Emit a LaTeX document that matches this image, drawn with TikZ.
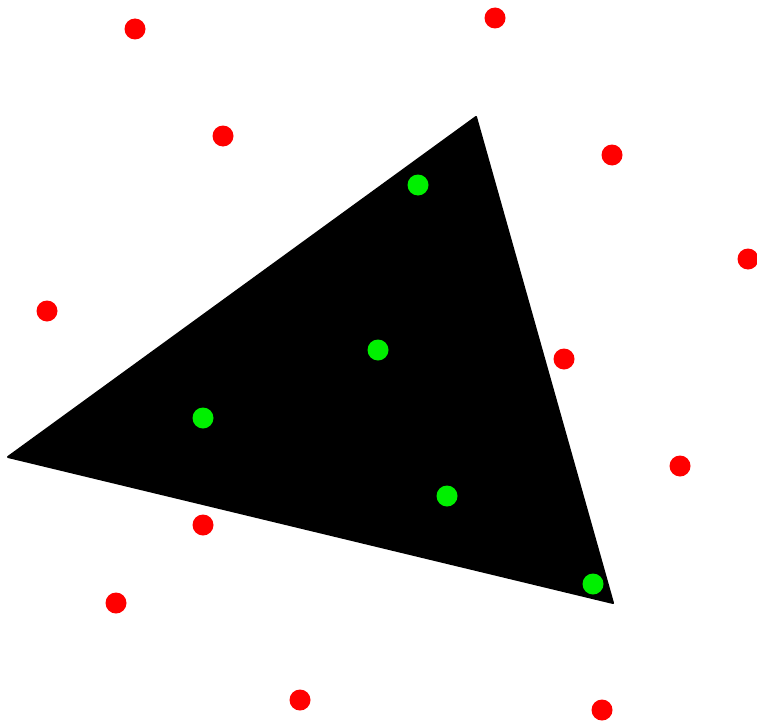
\documentclass[tikz,border=0pt]{standalone}
\usepackage{xcolor}
\usepackage{tikz}

\definecolor{outred}{RGB}{255,0,0}
\definecolor{ingreen}{RGB}{0,240,0}

\begin{document}
\begin{tikzpicture}[x=1pt, y=-1pt,
  every node/.style={inner sep=0pt},
  outpt/.style={circle, fill=outred, minimum size=21pt},
  inpt/.style={circle, fill=ingreen, minimum size=21pt},
  hull/.style={fill=black, draw=black, line width=2pt, line join=round}]
\useasboundingbox (0,0) rectangle (757,725);
% triangle corners
\coordinate (Ttop)   at (476,117);
\coordinate (Tleft)  at (8,457);
\coordinate (Tright) at (613,603);
\fill[hull] (Ttop) -- (Tleft) -- (Tright) -- cycle;
% points inside
\node[inpt] (G1) at (418,185) {};
\node[inpt] (G2) at (378,350) {};
\node[inpt] (G3) at (203,418) {};
\node[inpt] (G4) at (447,496) {};
\node[inpt] (G5) at (593,584) {};
% points outside
\node[outpt] (R1)  at (135,29)  {};
\node[outpt] (R2)  at (495,18)  {};
\node[outpt] (R3)  at (223,136) {};
\node[outpt] (R4)  at (612,155) {};
\node[outpt] (R5)  at (748,259) {};
\node[outpt] (R6)  at (47,311)  {};
\node[outpt] (R7)  at (564,359) {};
\node[outpt] (R8)  at (680,466) {};
\node[outpt] (R9)  at (203,525) {};
\node[outpt] (R10) at (116,603) {};
\node[outpt] (R11) at (300,700) {};
\node[outpt] (R12) at (602,710) {};
\end{tikzpicture}
\end{document}
